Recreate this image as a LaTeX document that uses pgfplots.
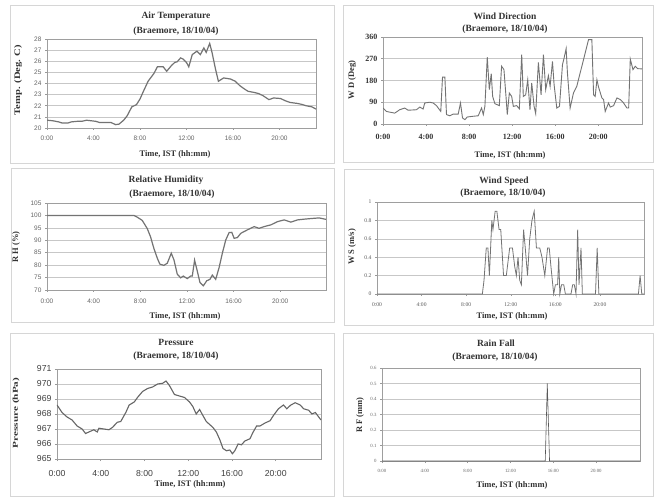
\documentclass[border=0pt]{standalone}
\usepackage{pgfplots}
\pgfplotsset{compat=1.18}
\usepackage{fontspec}
\setmainfont{Liberation Serif}
\newfontfamily\arial{Liberation Sans}
\definecolor{ln}{gray}{0.45}
\definecolor{ttl}{gray}{0.2}
\pgfplotsset{
  panel/.style={
    scale only axis, anchor=south west, xmin=0,
    axis background/.style={fill=white},
    axis line style={draw=black!38, line width=0.6pt},
    ymajorgrids, grid style={draw=black!22, line width=0.5pt},
    xtick={0,4,8,12,16,20},
    xticklabels={0:00,4:00,8:00,12:00,16:00,20:00},
    xtick pos=bottom, ytick pos=left,
    tick align=outside, major tick length=2pt,
    tick style={draw=black!40, line width=0.5pt},
    /pgf/number format/assume math mode=true,
  },
}
\newcommand{\ttlA}[3]{\node[font=\fontsize{9.5}{10}\selectfont\bfseries, text=ttl] at (#1pt,#2pt) {#3};}
\newcommand{\xlab}[2]{\node[font=\fontsize{8.5}{9}\selectfont\bfseries, text=ttl] at (#1pt,#2pt) {Time, IST (hh:mm)};}
\newcommand{\ylab}[5]{\node[font=\fontsize{#5}{9}\selectfont\bfseries, text=ttl, rotate=90] at (#1pt,#2pt) {\scalebox{#3}[1]{#4}};}
\begin{document}
\begin{tikzpicture}
\useasboundingbox (0,0) rectangle (656pt,498pt);
\fill[white] (0,0) rectangle (656pt,498pt);
\begin{scope}[draw=black!16, line width=0.8pt]
\draw (10pt,335pt) rectangle (334pt,493pt);
\draw (343pt,336pt) rectangle (653pt,493pt);
\draw (11pt,176pt) rectangle (334pt,330pt);
\draw (344pt,173pt) rectangle (653pt,329pt);
\draw (10pt,2pt) rectangle (334pt,165pt);
\draw (343pt,2pt) rectangle (653pt,165pt);
\end{scope}

% ---------------- Air temperature
\begin{axis}[panel, at={(47pt,370pt)}, width=269pt, height=89pt,
  xmax=23.15, ymin=20, ymax=28, ytick={20,21,...,28},
  tick label style={font=\fontsize{6.5}{7}\arial, text=black!60},
  xticklabel style={yshift=-2pt}]
\addplot[ln, line width=1.2pt] coordinates {
(0,20.7) (0.5,20.65) (1.0,20.55) (1.3,20.45) (1.8,20.45) (2.1,20.55) (2.6,20.6) (3.0,20.6) (3.4,20.7) (3.8,20.65) (4.2,20.6) (4.5,20.5) (5.0,20.5) (5.5,20.5) (5.9,20.3) (6.2,20.35) (6.6,20.7) (6.9,21.1) (7.3,21.9) (7.7,22.1) (8.0,22.6) (8.3,23.3) (8.7,24.2) (9.2,24.9) (9.5,25.5) (10.0,25.5) (10.3,25.1) (10.7,25.6) (11.0,25.9) (11.2,25.95) (11.5,26.3) (11.7,26.2) (12.0,25.9) (12.2,25.5) (12.5,26.6) (12.9,26.9) (13.2,26.6) (13.5,27.2) (13.7,26.8) (14.0,27.6) (14.2,26.8) (14.5,25.3) (14.75,24.2) (15.2,24.5) (15.8,24.4) (16.2,24.2) (16.6,23.8) (17.0,23.5) (17.3,23.3) (17.8,23.2) (18.2,23.1) (18.6,22.9) (19.1,22.55) (19.5,22.7) (20.1,22.65) (20.5,22.45) (20.9,22.3) (21.6,22.2) (22.0,22.1) (22.3,22.0) (22.8,21.9) (23.15,21.7)
};
\end{axis}
\ttlA{176}{482}{Air Temperature}
\ttlA{176}{467}{(Braemore, 18/10/04)}
\xlab{175}{344}
\ylab{18}{418}{1.25}{Temp. (Deg. C)}{8.5}

% ---------------- Wind direction
\begin{axis}[panel, at={(383pt,374pt)}, width=259pt, height=87pt,
  xmax=24.07, ymin=0, ymax=360, ytick={0,90,180,270,360},
  tick label style={font=\fontsize{8}{9}\selectfont\bfseries, text=black!80},
  xticklabel style={yshift=-5pt}]
\addplot[ln, line width=0.9pt] coordinates {
(0,66) (0.31,52) (1.09,45) (1.55,59) (2.02,66) (2.33,57) (3.11,59) (3.42,70) (3.73,62) (3.88,87) (4.35,90) (4.66,87) (4.97,76) (5.37,52) (5.53,194) (5.75,194) (5.90,39) (6.21,34) (6.52,41) (6.99,41) (7.20,87) (7.39,25) (7.61,18) (7.83,29) (8.39,32) (8.85,34) (9.16,66) (9.32,39) (9.47,73) (9.69,277) (9.88,142) (10.06,208) (10.19,114) (10.40,84) (10.81,76) (11.02,239) (11.24,225) (11.43,114) (11.55,39) (11.74,128) (11.96,114) (12.11,73) (12.42,76) (12.67,63) (12.89,287) (13.04,114) (13.26,121) (13.45,183) (13.66,59) (13.82,170) (14.04,73) (14.19,43) (14.44,255) (14.69,121) (14.91,287) (15.12,142) (15.37,200) (15.53,156) (15.75,259) (15.90,163) (16.15,66) (16.40,73) (16.68,246) (16.83,273) (17.02,312) (17.14,211) (17.39,66) (17.70,128) (18.01,156) (18.48,239) (18.79,294) (19.10,349) (19.41,349) (19.57,121) (19.72,114) (19.88,183) (20.03,153) (20.34,108) (20.50,101) (20.65,52) (20.96,87) (21.12,70) (21.43,76) (21.74,108) (22.05,101) (22.36,87) (22.67,66) (22.83,66) (22.98,269) (23.23,225) (23.45,239) (23.66,229) (24.07,228)
};
\end{axis}
\ttlA{505}{482}{Wind Direction}
\ttlA{505}{469}{(Braemore, 18/10/04)}
\xlab{510}{343}
\ylab{352}{418}{1.0}{W D (Deg)}{8.5}

% ---------------- Relative humidity
\begin{axis}[panel, at={(47pt,208pt)}, width=279pt, height=87pt,
  xmax=23.93, ymin=70, ymax=105, ytick={70,75,...,105},
  tick label style={font=\fontsize{6.5}{7}\arial, text=black!60},
  xticklabel style={yshift=-3pt}]
\addplot[ln, line width=1.2pt] coordinates {
(0,100) (7.45,100) (7.74,99.3) (8.17,98) (8.60,94.7) (8.88,91.4) (9.17,86.7) (9.46,82.8) (9.68,80.4) (10.03,79.9) (10.32,80.8) (10.66,84.8) (10.89,82.1) (11.17,76.4) (11.46,74.9) (11.69,75.6) (12.03,74.6) (12.32,75.6) (12.46,75.6) (12.66,82) (12.89,77.6) (13.12,73) (13.41,71.7) (13.70,73.7) (13.98,74.3) (14.18,76) (14.47,74.3) (14.76,79) (15.04,84.8) (15.33,90.1) (15.62,93.1) (15.85,93.2) (16.05,90.8) (16.33,91.1) (16.62,92.8) (17.19,94.2) (17.77,95.5) (18.19,94.8) (18.62,95.5) (19.20,96.2) (19.77,97.5) (20.34,98.2) (20.92,97.3) (21.49,98.2) (22.06,98.5) (22.78,98.8) (23.35,99) (23.93,98.4)
};
\end{axis}
\ttlA{166}{318}{Relative Humidity}
\ttlA{172}{304}{(Braemore, 18/10/04)}
\xlab{185}{182}
\ylab{16}{251}{1.0}{R H (\%)}{8.5}

% ---------------- Wind speed
\begin{axis}[panel, at={(377pt,204pt)}, width=267pt, height=92pt, clip=false,
  xmax=23.95, ymin=0, ymax=1, ytick={0,0.2,...,1},
  /pgf/number format/.cd, fixed, precision=1, /pgfplots/.cd,
  tick label style={font=\fontsize{5.6}{6}\selectfont, text=black!65},
  xticklabel style={yshift=-3pt}]
\addplot[ln, line width=0.8pt] coordinates {
(0,0) (9.45,0) (9.6,0.15) (9.8,0.5) (9.95,0.5) (10.08,0.2) (10.3,0.8) (10.4,0.7) (10.6,0.9) (10.75,0.9) (10.95,0.7) (11.1,0.7) (11.35,0.2) (11.6,0.2) (11.9,0.5) (12.15,0.5) (12.35,0.3) (12.5,0.2) (12.65,0.4) (12.8,0.15) (12.95,0.1) (13.15,0.7) (13.3,0.5) (13.5,0.2) (13.7,0.6) (13.9,0.8) (14.1,0.9) (14.3,0.5) (14.6,0.5) (14.8,0.4) (15.05,0.2) (15.3,0.5) (15.45,0.5) (15.6,0.3) (15.85,0) (16.0,0.1) (16.2,0.1) (16.3,0.4) (16.4,0) (16.55,0.1) (16.75,0.1) (16.9,0) (17.4,0) (17.55,0.1) (17.7,0.1) (17.85,0) (18.0,0.7) (18.12,0.1) (18.3,0.5) (18.42,0) (19.6,0) (19.75,0.5) (19.9,0) (23.45,0) (23.6,0.2) (23.75,0) (23.95,0)
};
\end{axis}
\ttlA{504}{317}{Wind Speed}
\ttlA{503}{305}{(Braemore, 18/10/04)}
\xlab{512}{182}
\ylab{352}{251}{1.0}{W S (m/s)}{8.5}

% ---------------- Pressure
\begin{axis}[panel, at={(57pt,39pt)}, width=264pt, height=90pt,
  xmax=24.14, ymin=965, ymax=971, ytick={965,966,...,971},
  tick label style={font=\fontsize{8.7}{9}\arial, text=black!75},
  xticklabel style={yshift=-6pt}]
\addplot[black!60, line width=1.1pt] coordinates {
(0,968.6) (0.46,968.1) (0.92,967.8) (1.38,967.6) (1.84,967.2) (2.30,967.0) (2.61,966.7) (2.91,966.8) (3.37,966.95) (3.68,966.8) (3.83,967.05) (4.29,967.0) (4.75,966.95) (5.06,967.1) (5.52,967.45) (5.83,967.5) (6.29,968.1) (6.60,968.6) (7.06,968.8) (7.36,969.1) (7.82,969.5) (8.28,969.7) (8.74,969.8) (9.20,970.0) (9.66,970.05) (9.97,970.2) (10.28,969.9) (10.74,969.3) (11.20,969.2) (11.66,969.1) (12.12,968.8) (12.42,968.5) (12.73,968.0) (13.04,968.3) (13.34,967.9) (13.65,967.5) (13.96,967.3) (14.26,967.1) (14.57,966.8) (14.88,966.3) (15.18,965.7) (15.49,965.55) (15.80,965.6) (16.04,965.35) (16.26,965.55) (16.56,966.0) (16.87,965.95) (17.18,966.2) (17.64,966.35) (17.94,966.8) (18.25,967.2) (18.56,967.2) (19.02,967.4) (19.48,967.55) (19.79,967.9) (20.25,968.35) (20.71,968.6) (21.01,968.35) (21.38,968.6) (21.78,968.75) (22.24,968.6) (22.55,968.35) (23.01,968.25) (23.31,968.0) (23.62,968.1) (23.93,967.8) (24.14,967.6)
};
\end{axis}
\ttlA{176}{156}{Pressure}
\ttlA{176}{142}{(Braemore, 18/10/04)}
\xlab{190}{14}
\ylab{16}{85}{1.5}{Pressure (hPa)}{7.5}

% ---------------- Rain fall
\begin{axis}[panel, at={(382pt,37pt)}, width=258pt, height=93pt, clip=false,
  xmax=24.1, ymin=0, ymax=0.6, ytick={0,0.1,...,0.6},
  /pgf/number format/.cd, fixed, precision=1, /pgfplots/.cd,
  tick label style={font=\fontsize{4.8}{5}\selectfont, text=black!60},
  xticklabel style={yshift=-3pt}]
\addplot[black!65, line width=0.6pt] coordinates {
(0,0) (15.25,0) (15.44,0.5) (15.65,0) (24.1,0)
};
\end{axis}
\ttlA{496}{155}{Rain Fall}
\ttlA{495}{141}{(Braemore, 18/10/04)}
\xlab{512}{13}
\ylab{360}{83}{1.0}{R F (mm)}{8.5}
\end{tikzpicture}
\end{document}
